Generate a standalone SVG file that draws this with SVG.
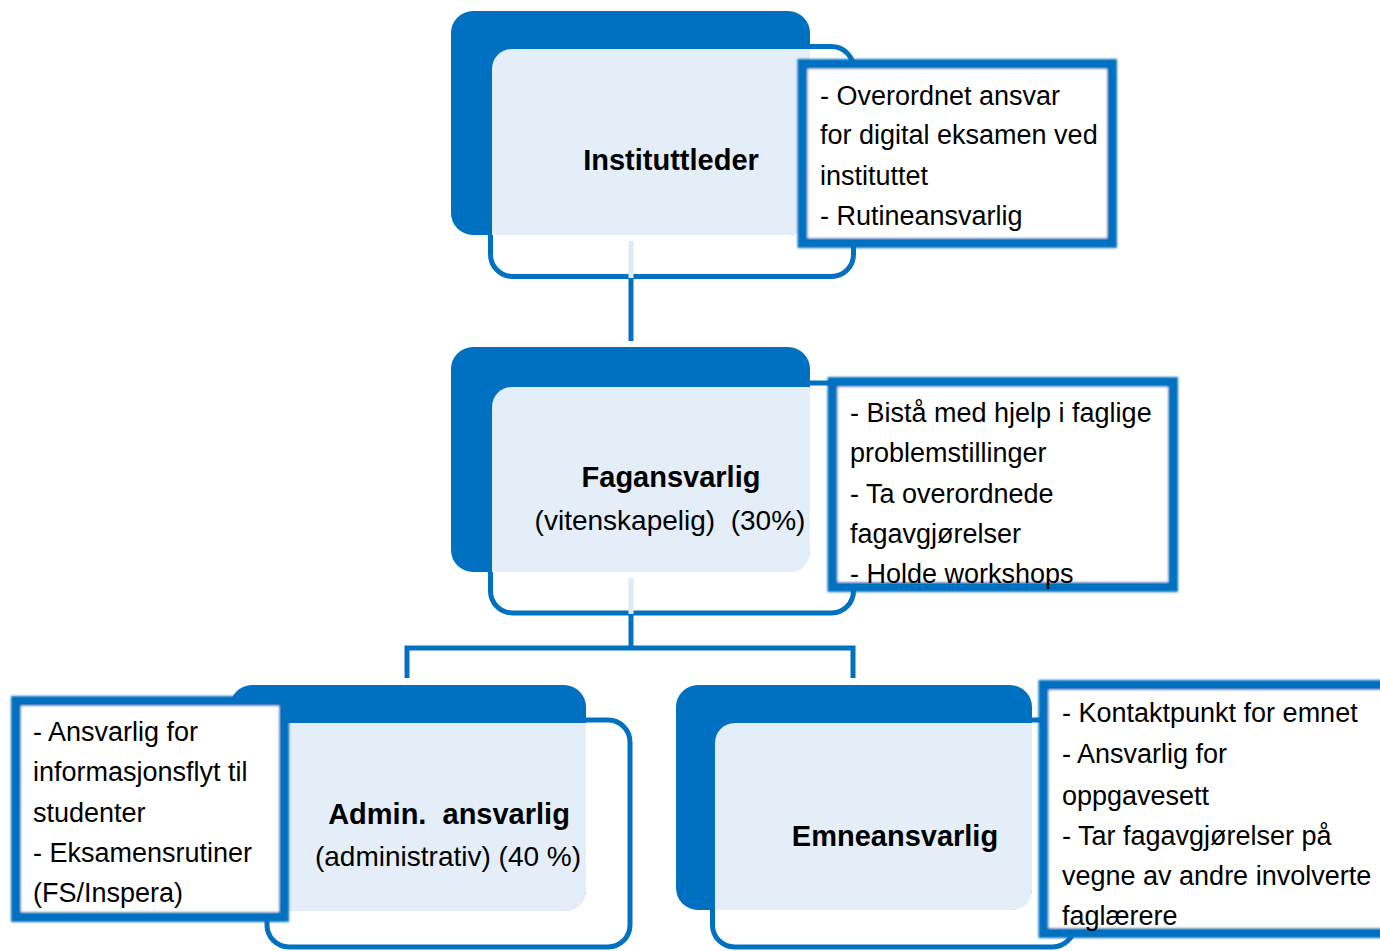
<svg xmlns="http://www.w3.org/2000/svg" width="1380" height="951" viewBox="0 0 1380 951">
<defs>
<filter id="soft" x="-5%" y="-5%" width="110%" height="110%"><feGaussianBlur stdDeviation="1.2"/></filter>
<style>
.dark{fill:#0070C0;}
.outline{fill:none;stroke:#0070C0;stroke-width:5;}
.light{fill:#E4EEF8;}
.title{font-family:"Liberation Sans",Arial,sans-serif;font-weight:bold;font-size:29px;fill:#000;text-anchor:middle;}
.sub{font-family:"Liberation Sans",Arial,sans-serif;font-size:28px;fill:#000;text-anchor:middle;}
.cbox{fill:#fff;stroke:#0070C0;stroke-width:10;filter:url(#soft);}
.ctext{font-family:"Liberation Sans",Arial,sans-serif;font-size:27px;fill:#000;}
.conn{fill:none;stroke:#0070C0;stroke-width:5;}
.pale{fill:none;stroke:#DCE9F6;stroke-width:5;}
</style>
</defs>
<rect width="1380" height="951" fill="#fff"/>

<g id="node-instituttleder">
<rect class="dark" x="451" y="11" width="359" height="224" rx="22"/>
<rect class="outline" x="490.5" y="46.5" width="363" height="230" rx="22"/>
<path class="light" d="M492,69 a20,20 0 0 1 20,-20 H810 V215 a20,20 0 0 1 -20,20 H492 Z"/>
<text class="title" x="671" y="170">Instituttleder</text>
</g>
<g id="note-instituttleder">
<rect class="cbox" x="802.5" y="64" width="309.5" height="179"/>
<text class="ctext" x="820" y="105">- Overordnet ansvar</text>
<text class="ctext" x="820" y="144">for digital eksamen ved</text>
<text class="ctext" x="820" y="185">instituttet</text>
<text class="ctext" x="820" y="225">- Rutineansvarlig</text>
</g>

<g id="node-fagansvarlig">
<rect class="dark" x="451" y="347" width="359" height="225" rx="22"/>
<rect class="outline" x="490.5" y="383" width="363" height="230" rx="22"/>
<path class="light" d="M492,407 a20,20 0 0 1 20,-20 H810 V552 a20,20 0 0 1 -20,20 H492 Z"/>
<text class="title" x="671" y="487">Fagansvarlig</text>
<text class="sub" x="670" y="530" xml:space="preserve">(vitenskapelig)  (30%)</text>
</g>
<g id="note-fagansvarlig">
<rect class="cbox" x="832.5" y="382" width="340.5" height="205"/>
<text class="ctext" x="850" y="422">- Bistå med hjelp i faglige</text>
<text class="ctext" x="850" y="462">problemstillinger</text>
<text class="ctext" x="850" y="503">- Ta overordnede</text>
<text class="ctext" x="850" y="543">fagavgjørelser</text>
<text class="ctext" x="850" y="583">- Holde workshops</text>
</g>

<g id="node-admin">
<rect class="dark" x="230" y="685" width="356" height="226" rx="22"/>
<rect class="outline" x="267" y="720" width="363" height="227" rx="22"/>
<path class="light" d="M271,743 a20,20 0 0 1 20,-20 H586 V891 a20,20 0 0 1 -20,20 H271 Z"/>
<text class="title" x="449" y="824" xml:space="preserve">Admin.  ansvarlig</text>
<text class="sub" x="448" y="866">(administrativ) (40 %)</text>
</g>
<g id="note-admin">
<rect class="cbox" x="16" y="701" width="268" height="216"/>
<text class="ctext" x="33" y="741">- Ansvarlig for</text>
<text class="ctext" x="33" y="781">informasjonsflyt til</text>
<text class="ctext" x="33" y="822">studenter</text>
<text class="ctext" x="33" y="862">- Eksamensrutiner</text>
<text class="ctext" x="33" y="902">(FS/Inspera)</text>
</g>

<g id="node-emneansvarlig">
<rect class="dark" x="676" y="685" width="356" height="225" rx="22"/>
<rect class="outline" x="712.5" y="720" width="362" height="227" rx="22"/>
<path class="light" d="M715,743 a20,20 0 0 1 20,-20 H1032 V890 a20,20 0 0 1 -20,20 H715 Z"/>
<text class="title" x="895" y="846">Emneansvarlig</text>
</g>
<g id="note-emneansvarlig">
<rect class="cbox" x="1043.5" y="685" width="360" height="248"/>
<text class="ctext" x="1062" y="722">- Kontaktpunkt for emnet</text>
<text class="ctext" x="1062" y="763">- Ansvarlig for</text>
<text class="ctext" x="1062" y="805">oppgavesett</text>
<text class="ctext" x="1062" y="845">- Tar fagavgjørelser på</text>
<text class="ctext" x="1062" y="885">vegne av andre involverte</text>
<text class="ctext" x="1062" y="925">faglærere</text>
</g>

<g id="connectors">
<line class="pale" x1="631" y1="241" x2="631" y2="278"/>
<line class="conn" x1="631" y1="278" x2="631" y2="341"/>
<line class="pale" x1="631" y1="578" x2="631" y2="614"/>
<line class="conn" x1="631" y1="614" x2="631" y2="648"/>
<path class="conn" d="M407,678 V648 H853 V678"/>
</g>
</svg>
